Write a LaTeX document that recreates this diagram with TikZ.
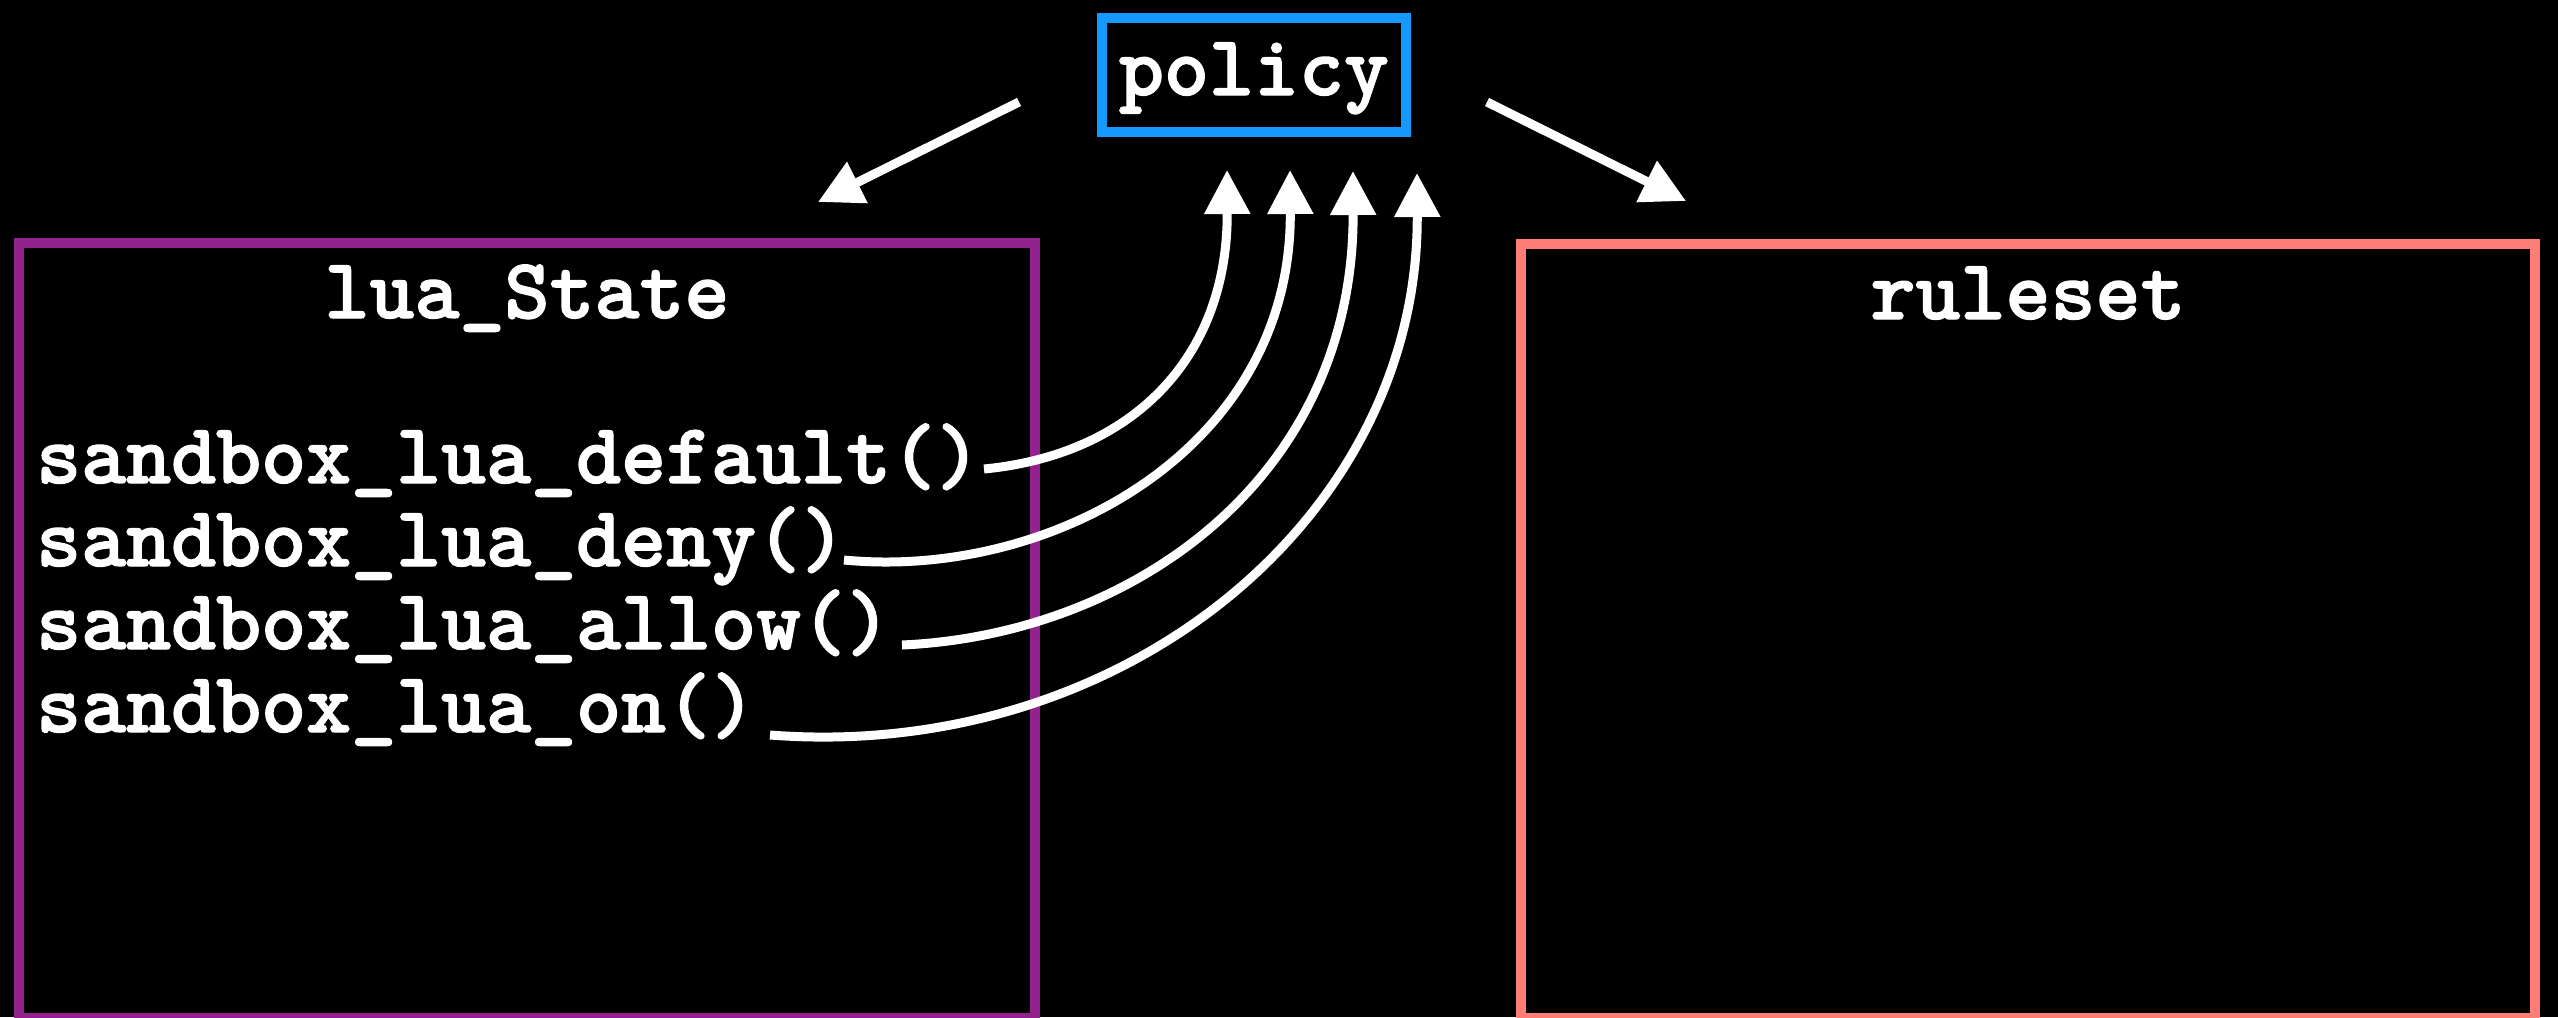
\documentclass[tikz,border=0pt]{standalone}
\usepackage{fontspec}
\newfontfamily\codefont{lmmonolt10-bold}[Extension=.otf,FakeBold=1.6]
\usetikzlibrary{arrows.meta}
\definecolor{luapurple}{RGB}{147,33,142}
\definecolor{rulesalmon}{RGB}{255,125,117}
\definecolor{polblue}{RGB}{22,153,255}
\begin{document}
\begin{tikzpicture}[x=1pt,y=-1pt,
  codetext/.style={text=white,font=\codefont\fontsize{85.7}{100}\selectfont,inner sep=0pt},
  framebox/.style={line width=10pt,inner sep=0pt,outer sep=0pt},
  conn/.style={draw=white,line width=9pt,-{Triangle[length=44pt,width=44pt]}}
]
\path[use as bounding box, fill=black] (0,0) rectangle (2558,1017);
\clip (0,0) rectangle (2558,1017);

% boxes
\node[framebox,draw=luapurple,minimum width=1016pt,minimum height=775pt,anchor=north west] (lua) at (19,243) {};
\node[framebox,draw=rulesalmon,minimum width=1014pt,minimum height=774pt,anchor=north west] (rules) at (1521,244) {};
\node[framebox,draw=polblue,minimum width=304pt,minimum height=114pt] (policy) at (1254,75) {};

% labels
\node[codetext,anchor=base] (policylabel) at (1254,95) {policy};
\node[codetext,anchor=base] (luatitle) at (527,318) {lua\_State};
\node[codetext,anchor=base] (rulestitle) at (2028,319) {ruleset};

\node[codetext,anchor=base west] (d1) at (36,483) {sandbox\_lua\_default()};
\node[codetext,anchor=base west] (d2) at (36,566) {sandbox\_lua\_deny()};
\node[codetext,anchor=base west] (d3) at (36,649) {sandbox\_lua\_allow()};
\node[codetext,anchor=base west] (d4) at (36,732) {sandbox\_lua\_on()};

% connector ends
\coordinate (pl) at (1019,102);
\coordinate (pr) at (1487,102);
\coordinate (al) at (818,202);
\coordinate (ar) at (1686,201);

\coordinate (s1) at (984,469);
\coordinate (s2) at (844,560);
\coordinate (s3) at (902,645);
\coordinate (s4) at (770,735);
\coordinate (t1) at (1227,170);
\coordinate (t2) at (1290,170);
\coordinate (t3) at (1353,171);
\coordinate (t4) at (1417,173);

% connectors
\draw[conn] (pl) -- (al);
\draw[conn] (pr) -- (ar);
\draw[conn] (s1) .. controls (1130,455) and (1228,360) .. (t1);
\draw[conn] (s2) .. controls (1050,580) and (1292,450) .. (t2);
\draw[conn] (s3) .. controls (1130,635) and (1354,480) .. (t3);
\draw[conn] (s4) .. controls (1120,762) and (1419,520) .. (t4);
\end{tikzpicture}
\end{document}
